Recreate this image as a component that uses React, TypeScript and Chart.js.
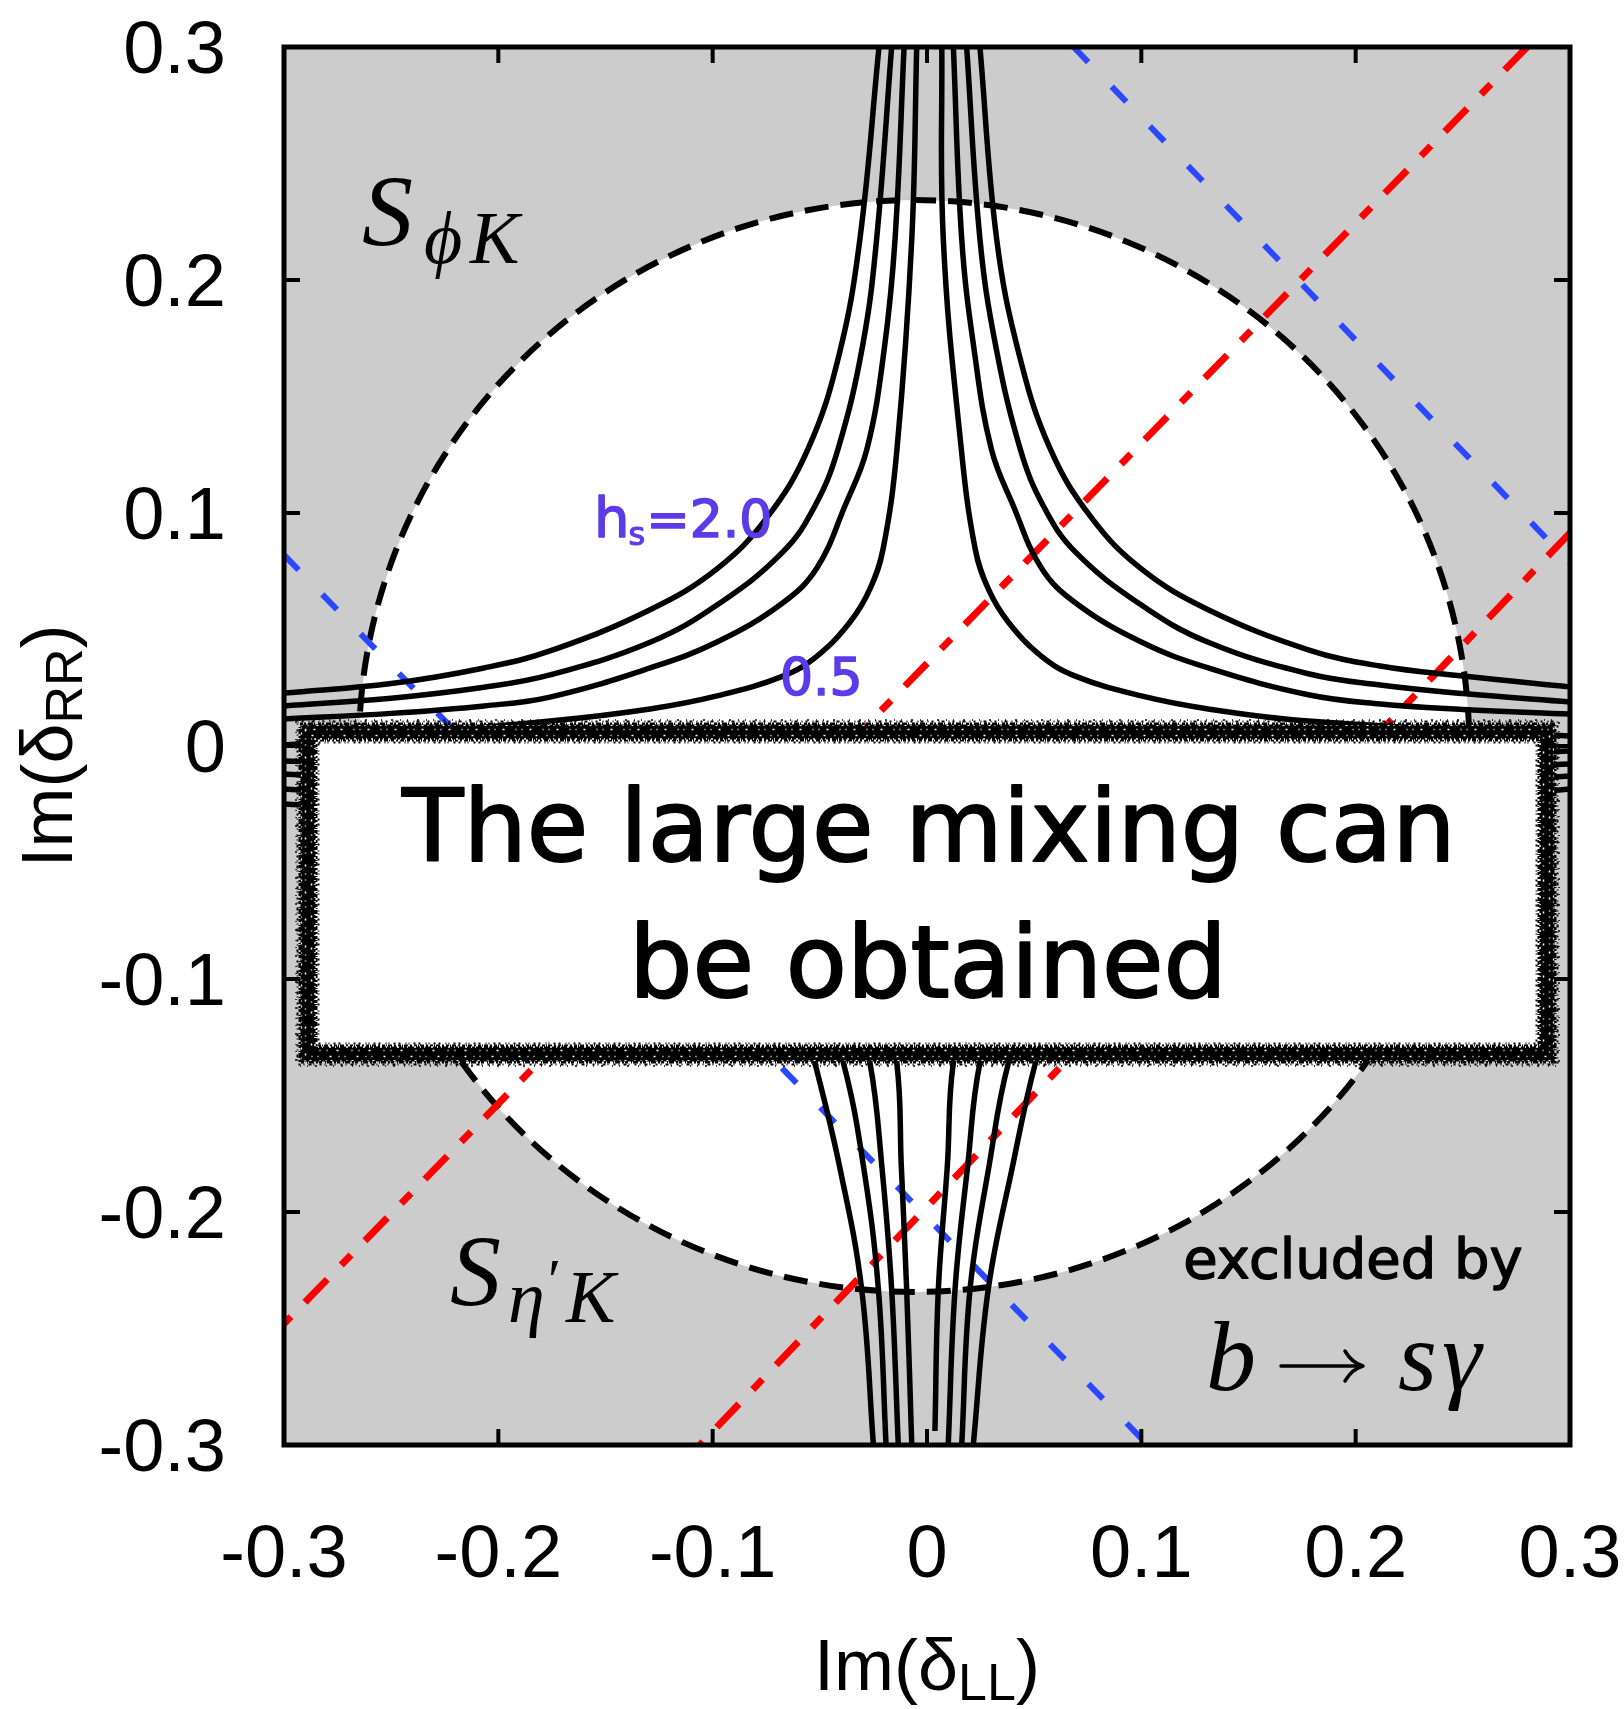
import React, { useEffect, useRef } from 'react';
import { Chart, registerables } from 'chart.js';

Chart.register(...registerables);

type P = [number, number];

// ---------- axes ----------
const xTickValues = [-0.3, -0.2, -0.1, 0, 0.1, 0.2, 0.3];
const xTickLabels = ['-0.3', '-0.2', '-0.1', '0', '0.1', '0.2', '0.3'];
const yTickValues = [-0.3, -0.2, -0.1, 0, 0.1, 0.2, 0.3];
const yTickLabels = ['-0.3', '-0.2', '-0.1', '0', '0.1', '0.2', '0.3'];

// ---------- region allowed by b -> s gamma (white ellipse) ----------
const allowedCenter = [-0.006, 0];
const allowedRadii = [0.259, 0.2343];

// ---------- h_s contours (x = Im dLL, y = Im dRR) ----------
const upperLeftH20: P[] = [[-0.3, 0.0227], [-0.25, 0.0268], [-0.2067, 0.0335], [-0.1759, 0.0408], [-0.1292, 0.0585], [-0.098, 0.076], [-0.0747, 0.098], [-0.0555, 0.1275], [-0.041, 0.168], [-0.0313, 0.2176], [-0.0224, 0.3]];
const upperLeftH15: P[] = [[-0.3, 0.0172], [-0.25, 0.0205], [-0.2067, 0.0252], [-0.1759, 0.0305], [-0.1292, 0.0445], [-0.098, 0.0605], [-0.0672, 0.0833], [-0.0523, 0.103], [-0.0415, 0.1275], [-0.03, 0.172], [-0.0235, 0.2176], [-0.0165, 0.3]];
const upperLeftH10: P[] = [[-0.3, 0.0116], [-0.25, 0.014], [-0.2067, 0.0172], [-0.1759, 0.021], [-0.1292, 0.0335], [-0.098, 0.0446], [-0.0672, 0.0615], [-0.0513, 0.0765], [-0.0383, 0.103], [-0.028, 0.1275], [-0.02, 0.17], [-0.0149, 0.2176], [-0.0107, 0.3]];
const upperLeftH05: P[] = [[-0.3, 0.0004], [-0.1759, 0.0107], [-0.1292, 0.0159], [-0.098, 0.0215], [-0.0672, 0.03], [-0.0513, 0.0386], [-0.0359, 0.0532], [-0.0266, 0.0674], [-0.0205, 0.0845], [-0.014, 0.1275], [-0.0071, 0.2176], [-0.0048, 0.3]];

const upperRightH20: P[] = [[0.0247, 0.3], [0.0325, 0.2176], [0.043, 0.168], [0.0575, 0.1275], [0.0767, 0.098], [0.1, 0.076], [0.1312, 0.0585], [0.1779, 0.0413], [0.2114, 0.0343], [0.25, 0.03], [0.3, 0.0253]];
const upperRightH15: P[] = [[0.0185, 0.3], [0.0247, 0.2176], [0.032, 0.172], [0.0435, 0.1275], [0.0543, 0.103], [0.0692, 0.0833], [0.1, 0.0605], [0.1312, 0.0445], [0.1779, 0.031], [0.2114, 0.0262], [0.25, 0.0225], [0.3, 0.0189]];
const upperRightH10: P[] = [[0.0123, 0.3], [0.0162, 0.2176], [0.022, 0.17], [0.03, 0.1275], [0.0403, 0.103], [0.0533, 0.0765], [0.0692, 0.0615], [0.1, 0.0446], [0.1312, 0.0335], [0.1779, 0.022], [0.2114, 0.018], [0.25, 0.0157], [0.3, 0.0137]];
const upperRightH05: P[] = [[0.0069, 0.3], [0.0076, 0.2176], [0.016, 0.1275], [0.0225, 0.0845], [0.0286, 0.0674], [0.0379, 0.0532], [0.0533, 0.0386], [0.0692, 0.03], [0.1, 0.0215], [0.1312, 0.0159], [0.1779, 0.0107], [0.3, 0.0043]];

const lowerLeftH20: P[] = [[-0.3, -0.0249], [-0.2, -0.03], [-0.12, -0.042], [-0.08, -0.07], [-0.06, -0.11], [-0.0523, -0.136], [-0.0409, -0.18], [-0.0305, -0.233], [-0.025, -0.3]];
const lowerLeftH15: P[] = [[-0.3, -0.0185], [-0.2, -0.024], [-0.12, -0.034], [-0.08, -0.055], [-0.055, -0.09], [-0.039, -0.136], [-0.0297, -0.18], [-0.0227, -0.233], [-0.0191, -0.3]];
const lowerLeftH10: P[] = [[-0.3, -0.012], [-0.2, -0.017], [-0.12, -0.026], [-0.07, -0.045], [-0.04, -0.085], [-0.0266, -0.136], [-0.0211, -0.18], [-0.0165, -0.233], [-0.0134, -0.3]];
const lowerLeftH05: P[] = [[-0.3, -0.0064], [-0.2, -0.01], [-0.12, -0.016], [-0.06, -0.033], [-0.025, -0.08], [-0.0141, -0.136], [-0.012, -0.18], [-0.0095, -0.233], [-0.0071, -0.3]];

const lowerRightH05: P[] = [[0.0037, -0.294], [0.0053, -0.233], [0.0095, -0.18], [0.0123, -0.136], [0.025, -0.08], [0.06, -0.032], [0.12, -0.013], [0.2, -0.006], [0.3, -0.0021]];
const lowerRightH10: P[] = [[0.0099, -0.3], [0.0131, -0.233], [0.019, -0.18], [0.0247, -0.136], [0.04, -0.085], [0.07, -0.045], [0.12, -0.024], [0.2, -0.012], [0.3, -0.0077]];
const lowerRightH15: P[] = [[0.0162, -0.3], [0.0201, -0.233], [0.029, -0.18], [0.038, -0.136], [0.055, -0.09], [0.08, -0.055], [0.12, -0.034], [0.2, -0.019], [0.3, -0.0129]];
const lowerRightH20: P[] = [[0.0216, -0.3], [0.0286, -0.233], [0.04, -0.18], [0.0506, -0.136], [0.06, -0.11], [0.08, -0.07], [0.12, -0.042], [0.2, -0.027], [0.3, -0.0185]];

// ---------- S_phiK (red dash-dot) and S_eta'K (blue dashed) bounds ----------
const sPhiKLine1: P[] = [[0.28, 0.3], [-0.3, -0.248]];
const sPhiKLine2: P[] = [[0.3, 0.0915], [-0.106, -0.3]];
const sEtaKLine1: P[] = [[0.0684, 0.3], [0.3, 0.0786]];
const sEtaKLine2: P[] = [[-0.3, 0.082], [0.103, -0.3]];

const contourSets: P[][] = [
  upperLeftH20, upperLeftH15, upperLeftH10, upperLeftH05,
  upperRightH20, upperRightH15, upperRightH10, upperRightH05,
  lowerLeftH20, lowerLeftH15, lowerLeftH10, lowerLeftH05,
  lowerRightH20, lowerRightH15, lowerRightH10, lowerRightH05,
];

const GRAY = '#cccccc';
const RED = '#ff0000';
const BLUE = '#2a48ff';
const PURPLE = '#5c3ce8';
const SANS = '"Liberation Sans", Arial, sans-serif';
const COMIC = '"DejaVu Sans", sans-serif';
const SERIF = '"Liberation Serif", "DejaVu Serif", serif';

const toXY = (pts: P[]) => pts.map(([x, y]) => ({ x, y }));

function heavyText(ctx: CanvasRenderingContext2D, s: string, x: number, y: number, w: number) {
  ctx.fillText(s, x, y);
  ctx.lineWidth = w;
  ctx.lineJoin = 'round';
  ctx.strokeStyle = ctx.fillStyle as string;
  ctx.strokeText(s, x, y);
}

function strokeRectOff(ctx: CanvasRenderingContext2D, r: { l: number; t: number; r: number; b: number }, off: number) {
  ctx.strokeRect(r.l - off, r.t - off, r.r - r.l + 2 * off, r.b - r.t + 2 * off);
}

function drawRoughBox(ctx: CanvasRenderingContext2D) {
  const r = { l: 308, t: 732, r: 1547, b: 1054 };
  ctx.save();
  ctx.fillStyle = '#ffffff';
  ctx.fillRect(r.l - 4, r.t - 4, r.r - r.l + 8, r.b - r.t + 8);
  ctx.strokeStyle = '#000';
  ctx.lineWidth = 15;
  ctx.lineJoin = 'miter';
  strokeRectOff(ctx, r, 0);
  const layers = [
    { off: 8, w: 3, dash: [3, 1, 2, 2, 5, 1, 1, 3], c: '#000' },
    { off: -8, w: 3, dash: [2, 2, 4, 1, 1, 1, 3, 2], c: '#000' },
    { off: 10.5, w: 2, dash: [1, 3, 2, 5, 1, 2, 3, 4], c: '#000' },
    { off: -10.5, w: 2, dash: [2, 4, 1, 2, 1, 5, 2, 3], c: '#000' },
    { off: 12, w: 1.5, dash: [1, 6, 1, 9, 2, 7], c: '#000' },
    { off: 2.5, w: 1.5, dash: [1, 7, 2, 11, 1, 5], c: '#fff' },
    { off: -3.5, w: 1.5, dash: [2, 9, 1, 6, 1, 13], c: '#fff' },
    { off: -7, w: 1.5, dash: [1, 4, 2, 6, 1, 3], c: '#fff' },
    { off: 6.5, w: 1.2, dash: [1, 5, 1, 8, 2, 4], c: '#fff' },
  ];
  for (const L of layers) {
    ctx.strokeStyle = L.c;
    ctx.lineWidth = L.w;
    ctx.setLineDash(L.dash);
    strokeRectOff(ctx, r, L.off);
  }
  ctx.setLineDash([]);
  ctx.fillStyle = '#000';
  ctx.textAlign = 'center';
  ctx.textBaseline = 'alphabetic';
  ctx.font = `100px ${COMIC}`;
  heavyText(ctx, 'The large mixing can', 929, 861, 2);
  heavyText(ctx, 'be obtained', 928, 997, 2);
  ctx.restore();
}

const decorPlugin = {
  id: 'decor',
  beforeDatasetsDraw(chart: any) {
    const { ctx, chartArea: a, scales } = chart;
    const xs = scales.x;
    const ys = scales.y;
    ctx.save();
    ctx.fillStyle = GRAY;
    ctx.fillRect(a.left, a.top, a.right - a.left, a.bottom - a.top);
    const cx = xs.getPixelForValue(allowedCenter[0]);
    const cy = ys.getPixelForValue(allowedCenter[1]);
    const rx = xs.getPixelForValue(allowedCenter[0] + allowedRadii[0]) - cx;
    const ry = cy - ys.getPixelForValue(allowedCenter[1] + allowedRadii[1]);
    ctx.beginPath();
    ctx.ellipse(cx, cy, rx, ry, 0, 0, Math.PI * 2);
    ctx.fillStyle = '#ffffff';
    ctx.fill();
    ctx.setLineDash([24, 12]);
    ctx.lineWidth = 6;
    ctx.strokeStyle = '#000';
    ctx.stroke();
    ctx.restore();
  },
  afterDatasetsDraw(chart: any) {
    const { ctx, chartArea: a, scales } = chart;
    const xs = scales.x;
    const ys = scales.y;

    // annotation box
    drawRoughBox(ctx);

    ctx.save();
    ctx.textBaseline = 'alphabetic';

    // h_s labels
    ctx.fillStyle = PURPLE;
    ctx.textAlign = 'left';
    let hx = 594;
    ctx.font = `56px ${COMIC}`;
    heavyText(ctx, 'h', hx, 537, 1.6);
    hx += ctx.measureText('h').width;
    ctx.font = `32px ${COMIC}`;
    heavyText(ctx, 's', hx - 1, 545, 1.2);
    hx += ctx.measureText('s').width;
    ctx.font = `52px ${COMIC}`;
    heavyText(ctx, '=2.0', hx, 537, 1.6);
    heavyText(ctx, '0.5', 780, 695, 1.6);

    // region labels
    ctx.fillStyle = '#000';
    ctx.font = `italic 102px ${SERIF}`;
    ctx.fillText('S', 362, 246);
    ctx.font = `italic 74px ${SERIF}`;
    ctx.fillText('ϕ', 424, 263);
    ctx.fillText('K', 470, 263);

    ctx.font = `italic 102px ${SERIF}`;
    ctx.fillText('S', 450, 1306);
    ctx.font = `italic 74px ${SERIF}`;
    ctx.fillText('η', 508, 1322);
    ctx.font = `60px ${SERIF}`;
    ctx.fillText('′', 548, 1300);
    ctx.font = `italic 74px ${SERIF}`;
    ctx.fillText('K', 566, 1322);

    ctx.textAlign = 'center';
    ctx.font = `56px ${COMIC}`;
    heavyText(ctx, 'excluded by', 1353, 1278, 1.4);

    ctx.textAlign = 'left';
    ctx.fillStyle = '#000';
    ctx.font = `italic 100px ${SERIF}`;
    ctx.fillText('b', 1206, 1390);
    ctx.fillText('s', 1398, 1390);
    ctx.fillText('γ', 1442, 1390);
    // arrow
    ctx.strokeStyle = '#000';
    ctx.lineWidth = 3.5;
    ctx.lineCap = 'round';
    ctx.beginPath();
    ctx.moveTo(1281, 1366);
    ctx.lineTo(1362, 1366);
    ctx.stroke();
    ctx.beginPath();
    ctx.moveTo(1345, 1351);
    ctx.quadraticCurveTo(1352, 1363, 1363, 1366);
    ctx.quadraticCurveTo(1352, 1369, 1345, 1381);
    ctx.stroke();
    ctx.lineCap = 'butt';

    // frame and inward ticks (all four sides)
    ctx.strokeStyle = '#000';
    ctx.lineWidth = 4;
    const tl = 16;
    ctx.beginPath();
    for (const v of xTickValues) {
      const px = xs.getPixelForValue(v);
      ctx.moveTo(px, a.bottom);
      ctx.lineTo(px, a.bottom - tl);
      ctx.moveTo(px, a.top);
      ctx.lineTo(px, a.top + tl);
    }
    for (const v of yTickValues) {
      const py = ys.getPixelForValue(v);
      ctx.moveTo(a.left, py);
      ctx.lineTo(a.left + tl, py);
      ctx.moveTo(a.right, py);
      ctx.lineTo(a.right - tl, py);
    }
    ctx.stroke();
    ctx.lineWidth = 5;
    ctx.lineJoin = 'miter';
    ctx.strokeRect(a.left, a.top, a.right - a.left, a.bottom - a.top);

    // tick labels
    ctx.fillStyle = '#000';
    ctx.font = `74px ${SANS}`;
    ctx.textAlign = 'center';
    xTickValues.forEach((v, i) => {
      ctx.fillText(xTickLabels[i], xs.getPixelForValue(v), 1577);
    });
    ctx.textAlign = 'right';
    yTickValues.forEach((v, i) => {
      ctx.fillText(yTickLabels[i], 226, ys.getPixelForValue(v) + 26);
    });

    // x title
    {
      ctx.font = `72px ${SANS}`;
      const w1 = ctx.measureText('Im(δ').width;
      const w3 = ctx.measureText(')').width;
      ctx.font = `52px ${SANS}`;
      const w2 = ctx.measureText('LL').width;
      const total = w1 + w2 + w3;
      const x0 = (a.left + a.right) / 2 - total / 2;
      ctx.textAlign = 'left';
      ctx.font = `72px ${SANS}`;
      ctx.fillText('Im(δ', x0, 1690);
      ctx.font = `52px ${SANS}`;
      ctx.fillText('LL', x0 + w1, 1700);
      ctx.font = `72px ${SANS}`;
      ctx.fillText(')', x0 + w1 + w2, 1690);
    }
    // y title (rotated)
    {
      ctx.save();
      ctx.translate(72, (a.top + a.bottom) / 2);
      ctx.rotate(-Math.PI / 2);
      ctx.font = `72px ${SANS}`;
      const w1 = ctx.measureText('Im(δ').width;
      const w3 = ctx.measureText(')').width;
      ctx.font = `52px ${SANS}`;
      const w2 = ctx.measureText('RR').width;
      const total = w1 + w2 + w3;
      const x0 = -total / 2;
      ctx.textAlign = 'left';
      ctx.font = `72px ${SANS}`;
      ctx.fillText('Im(δ', x0, 0);
      ctx.font = `52px ${SANS}`;
      ctx.fillText('RR', x0 + w1, 10);
      ctx.font = `72px ${SANS}`;
      ctx.fillText(')', x0 + w1 + w2, 0);
      ctx.restore();
    }
    ctx.restore();
  },
};

export default function App() {
  const canvasRef = useRef<HTMLCanvasElement | null>(null);

  useEffect(() => {
    const canvas = canvasRef.current;
    if (!canvas) return;
    const datasets: any[] = [];
    contourSets.forEach((pts) => {
      datasets.push({
        data: toXY(pts),
        showLine: true,
        borderColor: '#000',
        borderWidth: 5.5,
        pointRadius: 0,
        pointHoverRadius: 0,
        tension: 0.4,
        fill: false,
        order: 0,
      });
    });
    [sPhiKLine1, sPhiKLine2].forEach((pts) => {
      datasets.push({
        data: toXY(pts),
        showLine: true,
        borderColor: RED,
        borderWidth: 7,
        borderDash: [32, 20, 14, 20],
        pointRadius: 0,
        pointHoverRadius: 0,
        fill: false,
        order: 1,
      });
    });
    [sEtaKLine1, sEtaKLine2].forEach((pts) => {
      datasets.push({
        data: toXY(pts),
        showLine: true,
        borderColor: BLUE,
        borderWidth: 6,
        borderDash: [21, 34],
        pointRadius: 0,
        pointHoverRadius: 0,
        fill: false,
        order: 1,
      });
    });

    const chart = new Chart(canvas, {
      type: 'scatter',
      data: { datasets },
      options: {
        responsive: false,
        animation: false,
        devicePixelRatio: 1,
        layout: { padding: { left: 284, top: 47, right: 54, bottom: 264 } },
        scales: {
          x: { type: 'linear', min: -0.3, max: 0.3, display: false },
          y: { type: 'linear', min: -0.3, max: 0.3, display: false },
        },
        plugins: { legend: { display: false }, tooltip: { enabled: false } },
        events: [],
      },
      plugins: [decorPlugin],
    } as any);
    return () => chart.destroy();
  }, []);

  return (
    <div style={{ position: 'absolute', left: 0, top: 0, width: 1624, height: 1709, background: '#fff' }}>
      <canvas ref={canvasRef} width={1624} height={1709} style={{ display: 'block' }} />
    </div>
  );
}
